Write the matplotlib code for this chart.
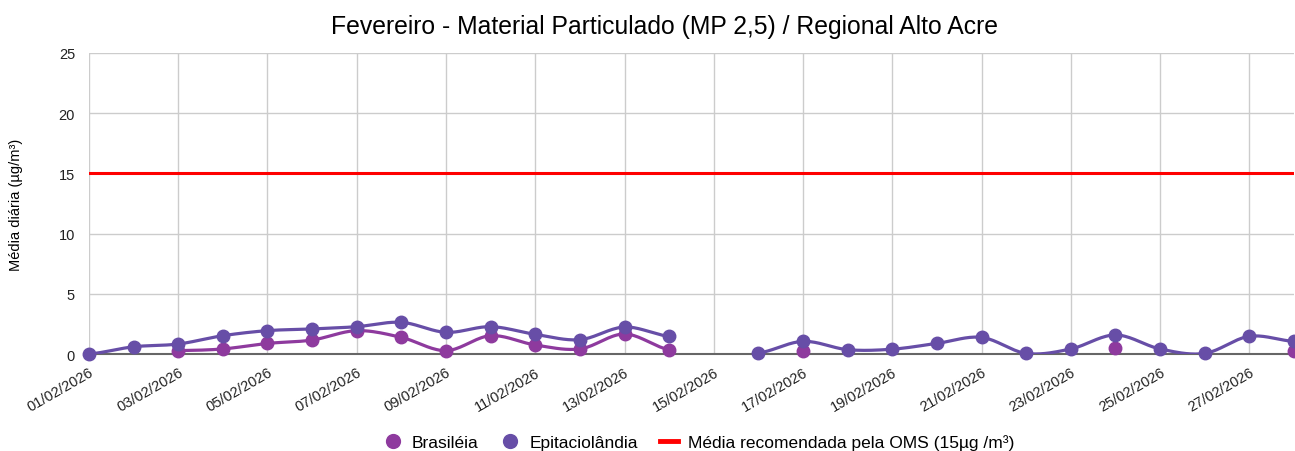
import numpy as np
import matplotlib.pyplot as plt
from matplotlib.lines import Line2D

plt.rcParams['font.family'] = ['Liberation Sans', 'DejaVu Sans']

# Data
dias = ["%02d/02/2026" % d for d in range(1, 29)]
brasileia = [None, None, 0.28, 0.42, 0.88, 1.16, 1.94, 1.38, 0.28, 1.52,
             0.75, 0.42, 1.66, 0.36, None, None, 0.22, None, None, None,
             None, None, None, 0.47, None, None, None, 0.22]
epitaciolandia = [0.0, 0.6, 0.83, 1.52, 1.94, 2.08, 2.27, 2.63, 1.8, 2.27,
                  1.63, 1.19, 2.24, 1.47, None, 0.08, 1.05, 0.36, 0.4, 0.88,
                  1.38, 0.05, 0.42, 1.58, 0.42, 0.05, 1.47, 1.05]
oms = 15

cor_bra = '#8e3a9e'
cor_epi = '#674ea7'


def smooth(xs, ys, n=20):
    # catmull-rom between consecutive points (like the sheets "smooth" line)
    xs = np.asarray(xs, float)
    ys = np.asarray(ys, float)
    if len(xs) < 2:
        return xs, ys
    px = np.concatenate([[2 * xs[0] - xs[1]], xs, [2 * xs[-1] - xs[-2]]])
    py = np.concatenate([[ys[0]], ys, [ys[-1]]])
    ox, oy = [], []
    t = np.linspace(0, 1, n)
    for i in range(1, len(px) - 2):
        for arr, out in ((px, ox), (py, oy)):
            p0, p1, p2, p3 = arr[i - 1], arr[i], arr[i + 1], arr[i + 2]
            out.extend(0.5 * ((2 * p1) + (-p0 + p2) * t +
                              (2 * p0 - 5 * p1 + 4 * p2 - p3) * t ** 2 +
                              (-p0 + 3 * p1 - 3 * p2 + p3) * t ** 3))
    return np.array(ox), np.array(oy)


def draw(ax, vals, color):
    seg = []
    segs = []
    for i, v in enumerate(vals):
        if v is None:
            if seg:
                segs.append(seg)
            seg = []
        else:
            seg.append((i, v))
    if seg:
        segs.append(seg)
    for s in segs:
        xs = [p[0] for p in s]
        ys = [p[1] for p in s]
        sx, sy = smooth(xs, ys)
        ax.plot(sx, sy, color=color, lw=2.3, zorder=3)
        ax.plot(xs, ys, 'o', color=color, ms=9, zorder=4, clip_on=False)


fig = plt.figure(figsize=(12.95, 4.52), dpi=100)
ax = fig.add_axes([0.0687, 0.2146, 0.9305, 0.666])

ax.axhline(oms, color='#ff0000', lw=2.2, zorder=2)
draw(ax, brasileia, cor_bra)
draw(ax, epitaciolandia, cor_epi)

ax.set_xlim(0, 27)
ax.set_ylim(0, 25)
ax.set_yticks([0, 5, 10, 15, 20, 25])
ax.set_xticks(range(0, 28, 2))
ax.set_xticklabels(dias[::2], rotation=30, ha='right', rotation_mode='anchor')
ax.tick_params(axis='both', length=0, labelsize=10.5, colors='#222222')
ax.tick_params(axis='x', pad=8)
ax.tick_params(axis='y', pad=10)
ax.grid(True, color='#cccccc', lw=1)
ax.set_axisbelow(True)
for s in ['top', 'right', 'left']:
    ax.spines[s].set_visible(False)
ax.spines['bottom'].set_color('#666666')
ax.spines['bottom'].set_linewidth(1.5)

ax.set_ylabel('Média diária (µg/m³)', fontsize=10.5, labelpad=26)
fig.text(0.513, 0.94, 'Fevereiro - Material Particulado (MP 2,5) / Regional Alto Acre',
         fontsize=17.8, ha='center', va='center')

handles = [
    Line2D([0], [0], marker='o', color='w', markerfacecolor=cor_bra, markersize=12, label='Brasiléia'),
    Line2D([0], [0], marker='o', color='w', markerfacecolor=cor_epi, markersize=12, label='Epitaciolândia'),
    Line2D([0], [0], color='#ff0000', lw=3.5, label='Média recomendada pela OMS (15µg /m³)'),
]
fig.legend(handles=handles, loc='center', bbox_to_anchor=(0.54, 0.02), ncol=3,
           frameon=False, fontsize=12.5, handlelength=1.0, handletextpad=0.6, columnspacing=1.3)

plt.savefig('out.png')
